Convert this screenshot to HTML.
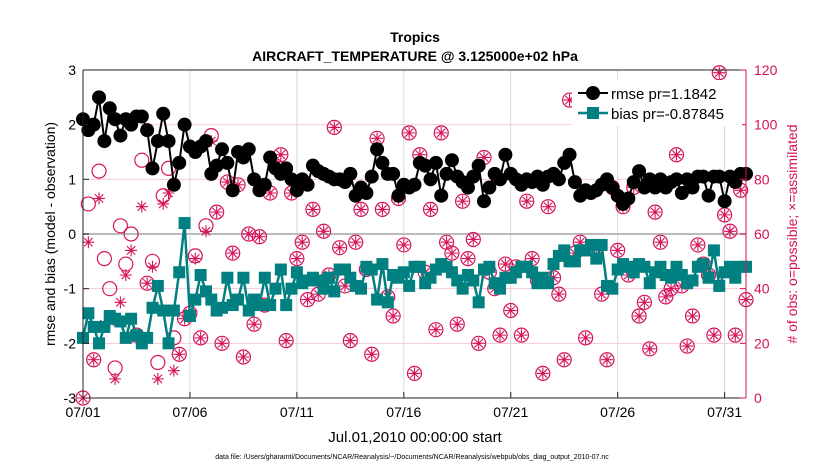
<!DOCTYPE html>
<html><head><meta charset="utf-8"><style>
body{margin:0;background:#fff;}
svg text{font-family:"Liberation Sans",sans-serif;}
</style></head><body>
<svg id="chart" width="830" height="470" xmlns="http://www.w3.org/2000/svg">
<text x="415" y="42" text-anchor="middle" font-size="14" font-weight="bold">Tropics</text>
<text x="415" y="61" text-anchor="middle" font-size="14" font-weight="bold">AIRCRAFT_TEMPERATURE @ 3.125000e+02 hPa</text>
<g id="grid"></g>
<g id="obs"></g>
<g id="series"></g>
<g id="axes"></g>
<g>
<rect x="572" y="80" width="170" height="46" fill="#fff"/>
<line x1="578" y1="93" x2="608" y2="93" stroke="#000" stroke-width="2"/>
<circle cx="593" cy="93" r="7" fill="#000"/>
<text x="611" y="99" font-size="15">rmse pr=1.1842</text>
<line x1="578" y1="113" x2="608" y2="113" stroke="#008080" stroke-width="2.5"/>
<rect x="587" y="107" width="12" height="12" fill="#008080"/>
<text x="611" y="119" font-size="15">bias pr=-0.87845</text>
</g>
<text x="415" y="442" text-anchor="middle" font-size="15">Jul.01,2010 00:00:00 start</text>
<text x="412" y="459" text-anchor="middle" font-size="7">data file: /Users/gharamti/Documents/NCAR/Reanalysis/~/Documents/NCAR/Reanalysis/webpub/obs_diag_output_2010-07.nc</text>
<text transform="translate(55,234) rotate(-90)" text-anchor="middle" font-size="14">rmse and bias (model - observation)</text>
<text transform="translate(797,234) rotate(-90)" text-anchor="middle" font-size="14" fill="#d6125a"># of obs: o=possible; ×=assimilated</text>
</svg>
<script>
const rmse=[2.1,1.9,2.0,2.5,1.7,2.3,2.1,1.8,2.1,2.0,2.15,2.15,1.9,1.2,1.7,2.2,1.7,0.9,1.3,2.0,1.6,1.5,1.6,1.7,1.1,1.25,1.55,1.3,0.8,1.5,1.4,1.55,1.0,0.8,0.9,1.4,1.2,1.1,1.2,1.0,0.8,1.0,0.9,1.25,1.15,1.1,1.05,1.0,1.0,0.95,1.1,0.7,0.85,0.75,1.05,1.55,1.3,1.1,1.1,0.7,0.9,0.85,0.9,1.3,1.25,1.0,1.3,0.7,1.1,1.35,1.05,0.95,0.85,1.05,1.25,0.6,0.85,1.1,1.0,1.45,1.1,1.0,0.9,1.0,0.95,1.05,0.9,1.05,1.1,1.0,1.3,1.45,0.95,0.7,0.8,0.75,0.8,0.9,1.0,0.85,0.7,0.55,0.65,0.95,1.15,0.85,1.0,0.85,1.0,0.85,0.95,1.0,0.75,1.0,0.85,1.05,1.05,0.7,1.05,1.05,0.6,1.05,0.95,1.1,1.1];
const bias=[-1.9,-1.45,-1.7,-2.0,-1.7,-1.5,-1.55,-1.6,-1.9,-1.55,-1.85,-2.0,-1.9,-1.35,-0.95,-1.4,-2.0,-1.4,-0.7,0.2,-1.5,-1.2,-0.75,-1.05,-1.2,-1.4,-1.35,-0.8,-1.3,-1.2,-0.8,-1.4,-1.2,-1.3,-0.8,-1.3,-1.0,-0.65,-1.3,-1.0,-0.7,-0.9,-0.85,-0.8,-0.85,-1.0,-0.8,-1.05,-0.65,-0.65,-0.8,-0.95,-1.0,-0.6,-0.65,-1.2,-0.55,-1.25,-0.75,-0.8,-0.7,-0.95,-0.6,-0.6,-0.9,-0.8,-0.65,-0.55,-0.6,-0.7,-0.85,-1.0,-0.75,-0.85,-1.25,-0.65,-0.6,-0.9,-1.0,-0.8,-0.8,-0.7,-0.6,-0.6,-0.7,-0.9,-0.8,-0.9,-0.55,-0.4,-0.3,-0.5,-0.5,-0.3,-0.3,-0.2,-0.45,-0.2,-0.95,-1.0,-0.65,-0.55,-0.6,-0.7,-0.55,-0.6,-0.9,-0.7,-0.6,-0.75,-0.8,-0.6,-0.75,-0.9,-0.85,-0.6,-0.55,-0.8,-0.3,-0.95,-0.7,-0.6,-0.8,-0.6,-0.6];
const possible=[0,71,14,83,51,40,11,63,49,60,23,87,42,50,13,74,84,22,16,29,31,52,22,63,96,68,20,79,53,78,15,60,27,59,34,75,85,89,21,75,51,57,36,69,38,61,45,99,55,41,21,57,69,47,16,95,69,37,30,73,56,97,9,89,46,69,25,97,57,53,27,72,51,58,20,88,46,40,23,49,32,48,23,72,51,43,9,70,44,38,14,109,53,57,22,104,55,38,14,77,54,70,45,77,30,35,18,68,57,37,40,89,41,19,30,56,49,45,23,119,67,61,23,76,36];
const assimilated=[0,57,14,73,27,28,7,35,45,54,22,70,42,48,7,71,75,10,16,29,31,51,22,61,94,68,20,79,53,78,15,60,27,59,34,75,85,89,21,75,51,57,36,69,38,61,45,99,55,41,21,57,69,47,16,95,69,37,30,73,56,97,9,89,46,69,25,97,57,53,27,72,51,58,20,88,46,40,23,49,32,48,23,72,51,43,9,70,44,38,14,109,53,57,22,104,55,38,14,77,54,70,45,77,30,35,18,68,57,37,40,89,41,19,30,56,49,45,23,119,67,61,23,76,36];
const xTickLabels=["07/01","07/06","07/11","07/16","07/21","07/26","07/31"];
const xTickDays=[0,5,10,15,20,25,30];
const leftTicks=[-3,-2,-1,0,1,2,3];
const rightTicks=[0,20,40,60,80,100,120];
const stepDays=0.25;

const L=83,R=746,T=70,B=398,DAYS=31;
const xs=d=>L+d/DAYS*(R-L);
const yl=v=>B-(v+3)/6*(B-T);
const yr=v=>B-v/120*(B-T);
const NS="http://www.w3.org/2000/svg";
const PINK="#d6125a";
function mk(tag,attrs,parent){const e=document.createElementNS(NS,tag);for(const k in attrs)e.setAttribute(k,attrs[k]);parent.appendChild(e);return e;}
const grid=document.getElementById('grid'),axes=document.getElementById('axes'),obs=document.getElementById('obs'),ser=document.getElementById('series');

rightTicks.forEach(t=>{const y=yr(t);const g=mk('line',{x1:L,x2:R,y1:y,y2:y,stroke:'#f6c8d8','stroke-width':1},grid);

});
xTickDays.forEach(d=>{const x=xs(d);const g=mk('line',{x1:x,x2:x,y1:T,y2:B,stroke:'#d8d8d8','stroke-width':1},grid);

});
const zl=mk('line',{x1:L,x2:R,y1:yl(0),y2:yl(0),stroke:'#bbbbbb','stroke-width':2},grid);



possible.forEach((v,i)=>{const c=mk('circle',{cx:xs(i*stepDays),cy:yr(v),r:7,fill:'none',stroke:PINK,'stroke-width':1.2},obs);

});
assimilated.forEach((v,i)=>{const x=xs(i*stepDays),y=yr(v),r=6;
const g=mk('path',{d:`M${x-r},${y}H${x+r}M${x},${y-r}V${y+r}M${x-r*.7},${y-r*.7}L${x+r*.7},${y+r*.7}M${x-r*.7},${y+r*.7}L${x+r*.7},${y-r*.7}`,stroke:PINK,'stroke-width':1.1,fill:'none'},obs);

});

const bp=bias.map((v,i)=>`${xs(i*stepDays).toFixed(1)},${yl(v).toFixed(1)}`).join(' ');
const bl=mk('polyline',{points:bp,fill:'none',stroke:'#008080','stroke-width':2.5},ser);


bias.forEach((v,i)=>{const r=mk('rect',{x:xs(i*stepDays)-6,y:yl(v)-6,width:12,height:12,fill:'#008080'},ser);

});
const rp=rmse.map((v,i)=>`${xs(i*stepDays).toFixed(1)},${yl(v).toFixed(1)}`).join(' ');
const rl=mk('polyline',{points:rp,fill:'none',stroke:'#000','stroke-width':2},ser);


rmse.forEach((v,i)=>{const c=mk('circle',{cx:xs(i*stepDays),cy:yl(v),r:7,fill:'#000'},ser);

});

mk('line',{x1:L,x2:L,y1:T,y2:B,stroke:'#222','stroke-width':1},axes);
mk('line',{x1:L,x2:R,y1:B,y2:B,stroke:'#222','stroke-width':1},axes);
mk('line',{x1:L,x2:R,y1:T,y2:T,stroke:'#222','stroke-width':1},axes);
mk('line',{x1:R,x2:R,y1:T,y2:B,stroke:PINK,'stroke-width':1},axes);
leftTicks.forEach(t=>{const y=yl(t);mk('line',{x1:L,x2:L+6,y1:y,y2:y,stroke:'#222'},axes);
const tx=mk('text',{x:L-7,y:y+5,'text-anchor':'end','font-size':14},axes);tx.textContent=t;

});
rightTicks.forEach(t=>{const y=yr(t);mk('line',{x1:R-6,x2:R,y1:y,y2:y,stroke:PINK},axes);
const tx=mk('text',{x:R+8,y:y+5,'font-size':14,fill:PINK},axes);tx.textContent=t;

});
xTickDays.forEach((d,i)=>{const x=xs(d);mk('line',{x1:x,x2:x,y1:B-6,y2:B,stroke:'#222'},axes);
const tx=mk('text',{x:x,y:B+19,'text-anchor':'middle','font-size':14},axes);tx.textContent=xTickLabels[i];

});
</script>
</body></html>
